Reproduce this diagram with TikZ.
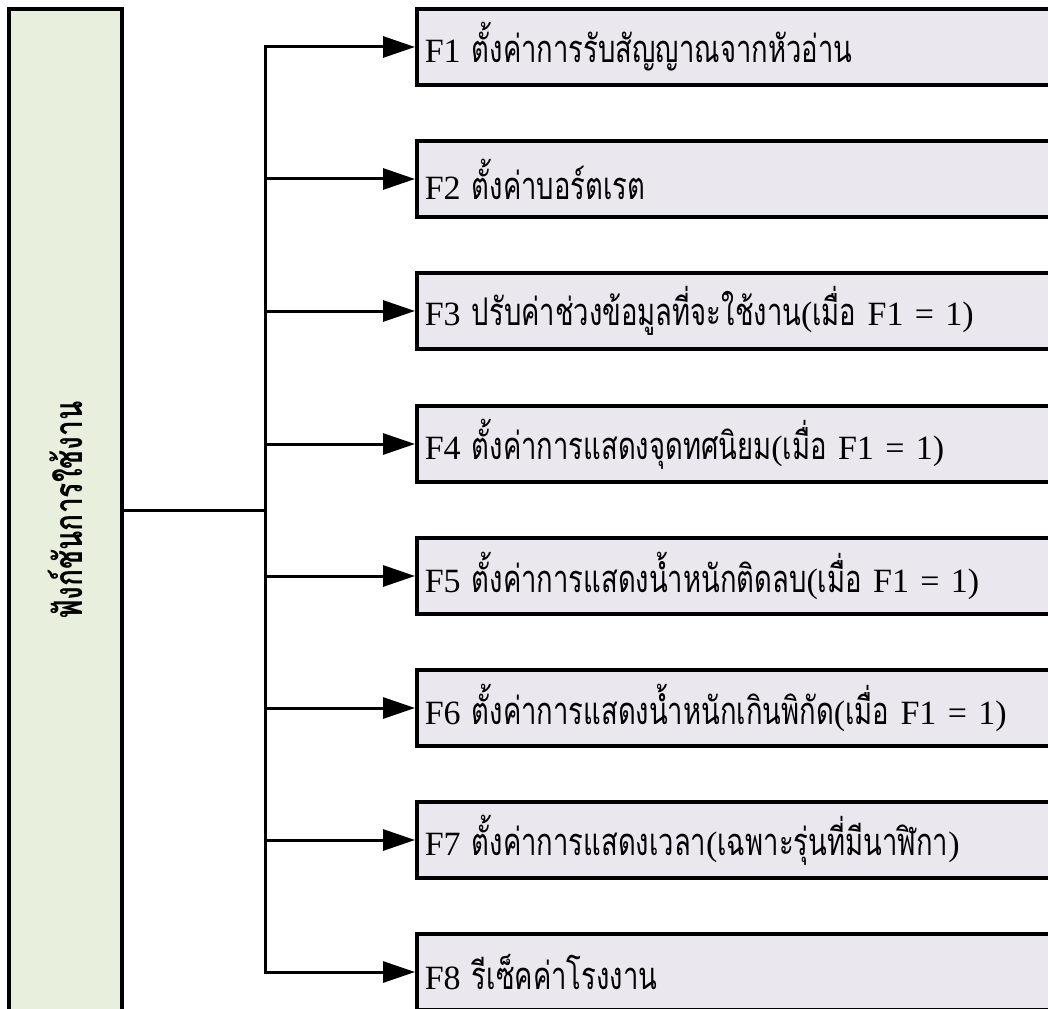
\documentclass[tikz,border=0pt]{standalone}
\usepackage{fontspec}
\setmainfont{Liberation Serif}
\newfontfamily\thaifont[Script=Thai,Scale=1.12,FakeStretch=0.72]{Loma}
\usetikzlibrary{arrows.meta,positioning}

\definecolor{funcfill}{HTML}{E8EFDD}
\definecolor{itemfill}{HTML}{EAE7EF}
\newcommand\thtxt[1]{{\thaifont #1}}

\tikzset{
  funcbox/.style={draw, line width=3.5pt, fill=funcfill, minimum width=113pt,
    minimum height=1002pt, inner sep=0pt},
  itembox/.style={draw, line width=3.5pt, fill=itemfill, anchor=west,
    minimum height=76pt, text width=640pt, inner xsep=8pt, align=left,
    font=\fontsize{34}{36}\selectfont},
  link/.style={line width=3pt},
  tip/.style={-{Triangle[length=32pt,width=21pt]}}
}

\begin{document}
\begin{tikzpicture}[x=1pt,y=-1pt]
\useasboundingbox (0,0) rectangle (1048,1008);
\clip (0,0) rectangle (1048,1008);

% main function block
\node[funcbox, font=\fontsize{35}{36}\selectfont] (func) at (65.5,510)
  {\rotatebox{90}{\thaifont\bfseries ฟังก์ชันการใช้งาน}};

% function items
\node[itembox] (f1) at (415,47)  {F1 \thtxt{ตั้งค่าการรับสัญญาณจากหัวอ่าน}};
\node[itembox] (f2) at (415,179) {F2 \thtxt{ตั้งค่าบอร์ตเรต}};
\node[itembox] (f3) at (415,311) {F3 \thtxt{ปรับค่าช่วงข้อมูลที่จะใช้งาน}(\thtxt{เมื่อ} F1 = 1)};
\node[itembox] (f4) at (415,444) {F4 \thtxt{ตั้งค่าการแสดงจุดทศนิยม}(\thtxt{เมื่อ} F1 = 1)};
\node[itembox] (f5) at (415,576) {F5 \thtxt{ตั้งค่าการแสดงน้ำหนักติดลบ}(\thtxt{เมื่อ} F1 = 1)};
\node[itembox] (f6) at (415,708) {F6 \thtxt{ตั้งค่าการแสดงน้ำหนักเกินพิกัด}(\thtxt{เมื่อ} F1 = 1)};
\node[itembox] (f7) at (415,840) {F7 \thtxt{ตั้งค่าการแสดงเวลา}(\thtxt{เฉพาะรุ่นที่มีนาฬิกา})};
\node[itembox] (f8) at (415,972) {F8 \thtxt{รีเซ็คค่าโรงงาน}};

% connectors
\coordinate (split) at (265,510);
\draw[link] (func.east) -- (split);
\draw[link, line cap=rect] (split |- f1.west) -- (split |- f8.west);
\foreach \k in {1,...,8}
  \draw[link, tip] (split |- f\k.west) -- (f\k.west);
\end{tikzpicture}
\end{document}
